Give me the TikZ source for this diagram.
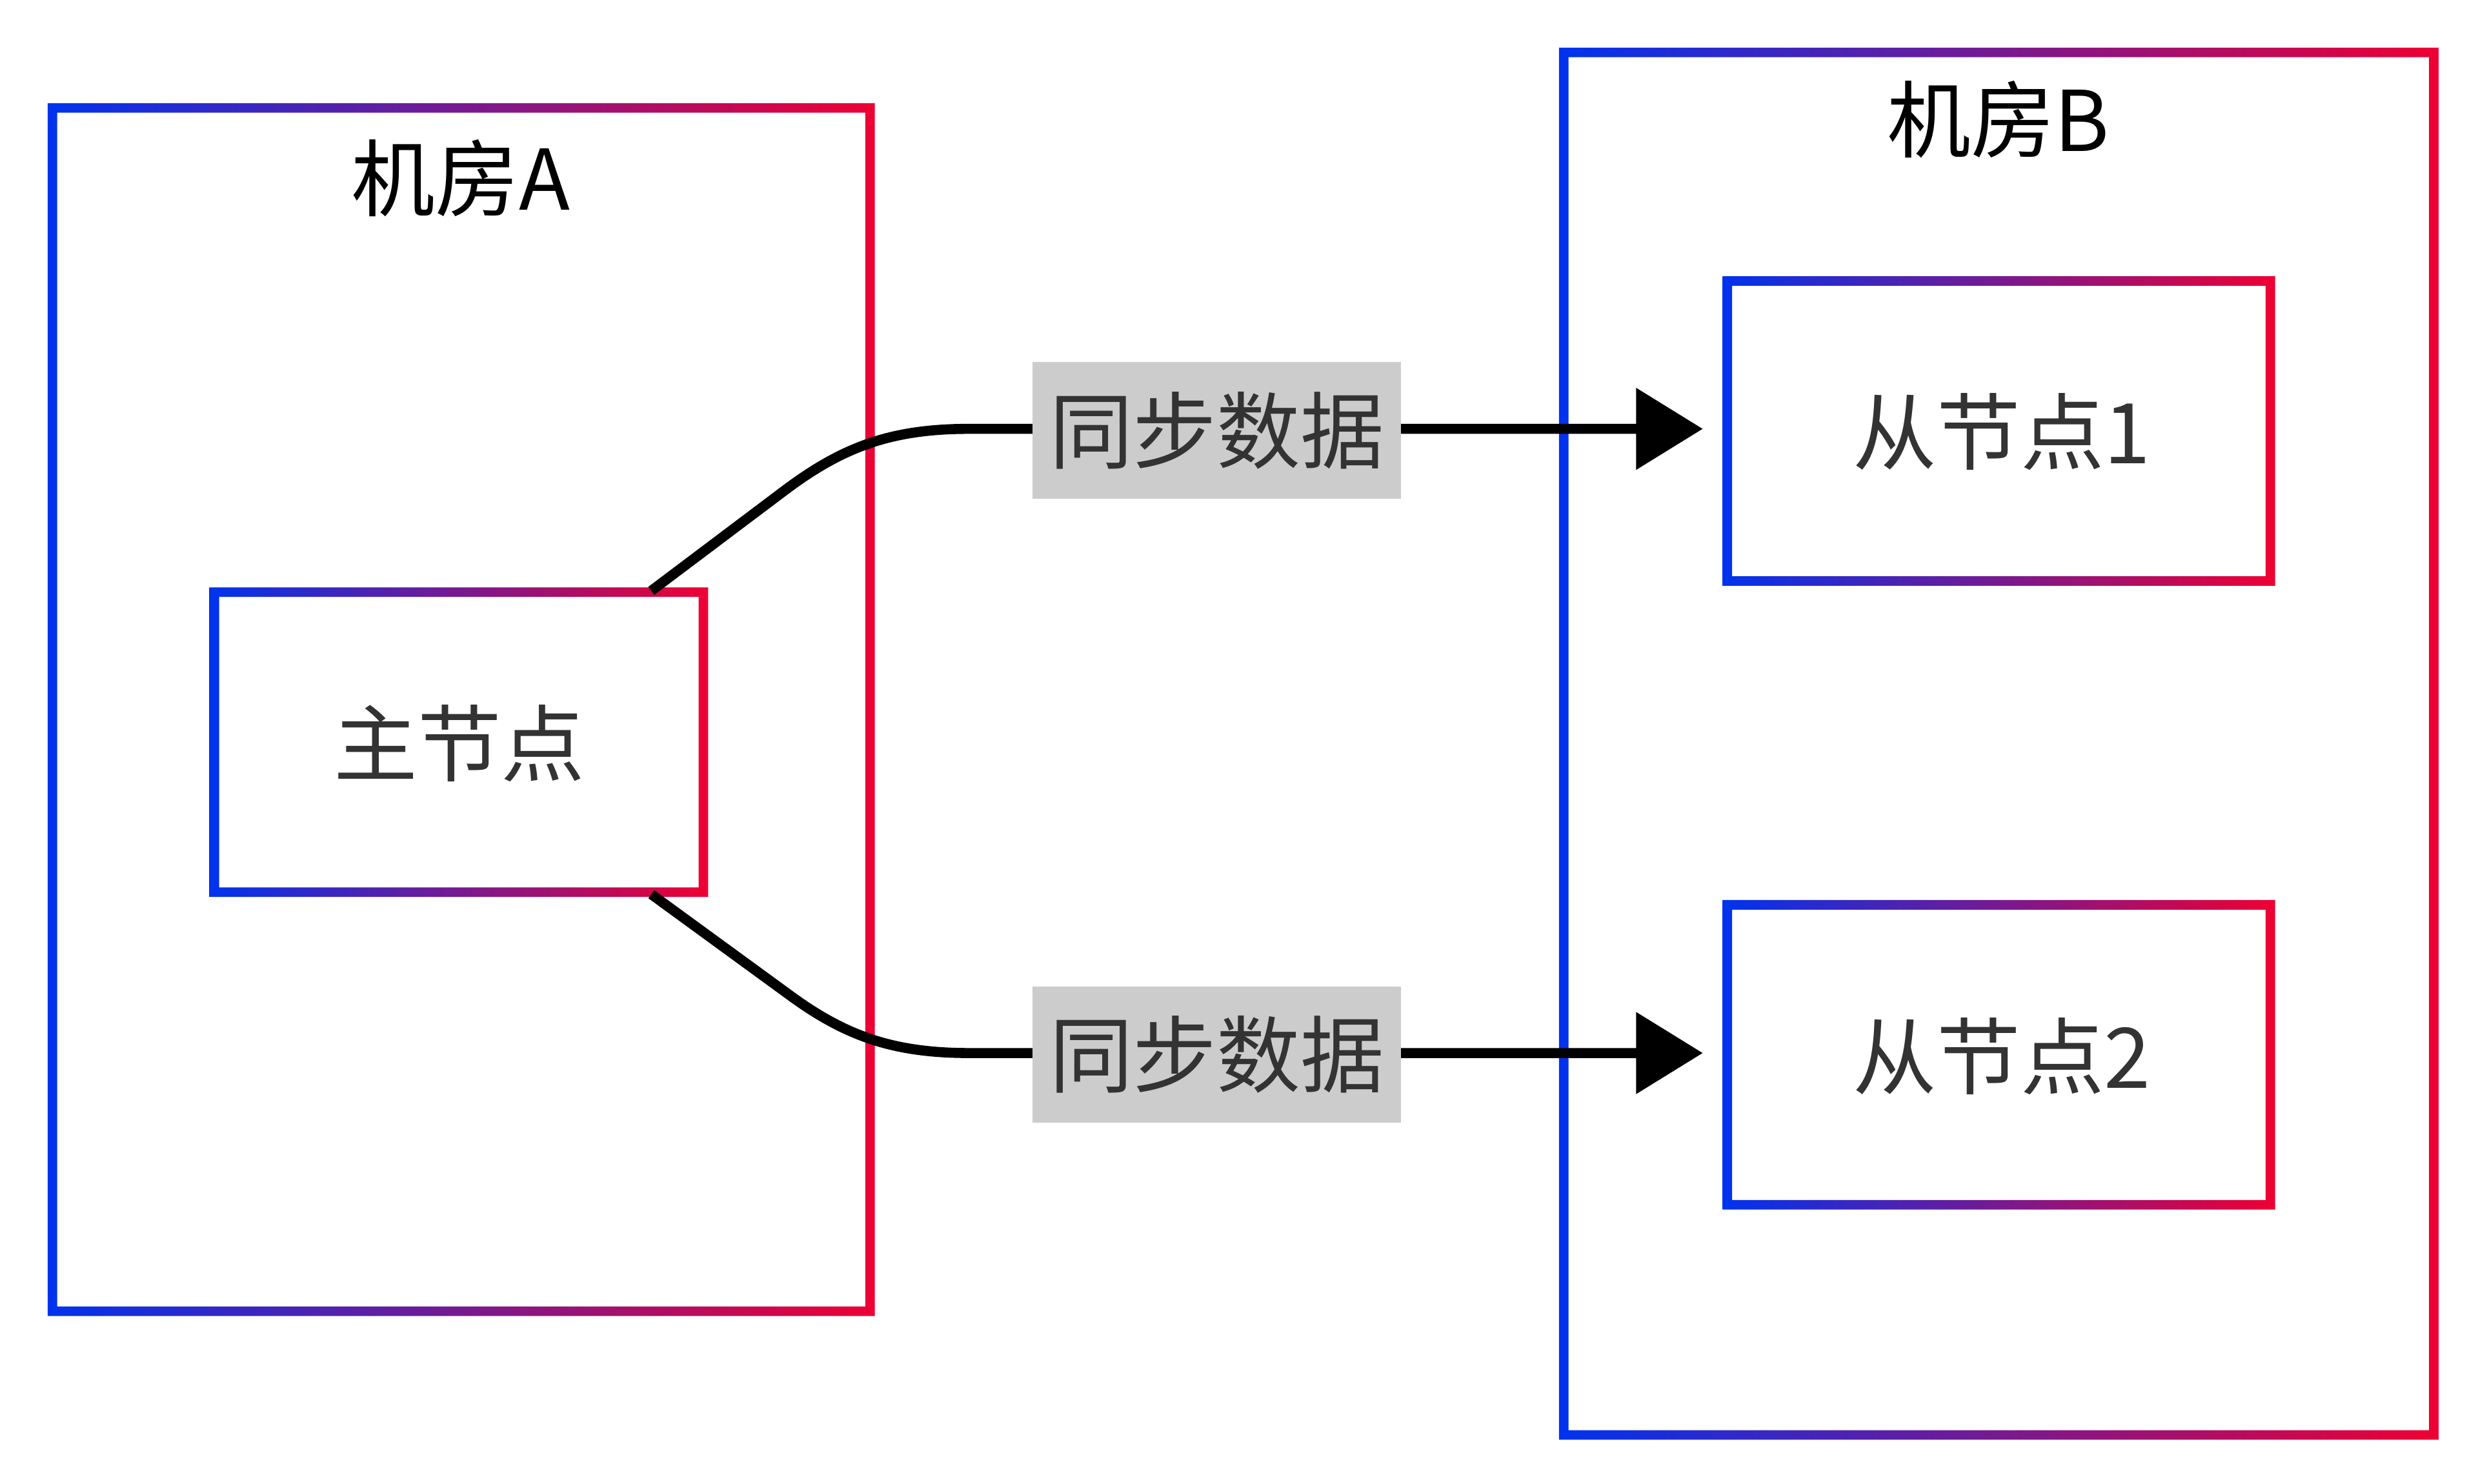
\documentclass[tikz,border=0pt]{standalone}
\usepackage{fontspec}
\newfontfamily\cjk{Noto Sans CJK SC}
\usetikzlibrary{arrows.meta}
\definecolor{gb}{HTML}{0033EE}
\definecolor{gr}{HTML}{EE0033}
\definecolor{tx}{HTML}{333333}
\definecolor{lb}{HTML}{CCCCCC}
\newcommand{\gbox}[5]{% name, x1, y1, x2, y2 (px coords, y down)
  \shade[left color=gb,right color=gr,even odd rule]
   (#2*0.01-0.03,-#3*0.01+0.03) rectangle (#4*0.01+0.03,-#5*0.01-0.03)
   (#2*0.01+0.03,-#3*0.01-0.03) rectangle (#4*0.01-0.03,-#5*0.01+0.03);
  \coordinate (#1) at (#2*0.005+#4*0.005,-#3*0.005-#5*0.005);
}
\tikzset{lbl/.style={font=\cjk\fontsize{15pt}{18pt}\selectfont},
  edge/.style={line width=1.8pt,-{Triangle[length=0.42cm,width=0.5cm]}},
  tag/.style={fill=lb,text=tx,minimum width=2.32cm,minimum height=0.86cm,inner sep=0pt,font=\cjk\fontsize{15pt}{18pt}\selectfont}}
\begin{document}
\begin{tikzpicture}
\useasboundingbox (0,0) rectangle (15.6,-9.34);
\gbox{ra}{33}{68}{548}{826}
\gbox{rb}{985}{33}{1533}{904}
\gbox{m}{135}{373}{443}{562}
\gbox{s1}{1088}{177}{1430}{366}
\gbox{s2}{1088}{570}{1430}{759}
\node[lbl] (la) at (2.9,-1.12) {机房A};
\node[lbl] (lb) at (12.58,-0.75) {机房B};
\node[lbl,text=tx] (mt) at (m) {主节点};
\node[lbl,text=tx] (s1t) at (s1) {从节点1};
\node[lbl,text=tx] (s2t) at (s2) {从节点2};
\coordinate (a1) at (4.1,-3.72);
\coordinate (a2) at (4.1,-5.63);
\coordinate (e1) at (10.72,-2.70);
\coordinate (e2) at (10.72,-6.63);
\draw[edge] (a1) -- (4.95,-3.08) .. controls (5.3,-2.82) and (5.6,-2.70) .. (6.1,-2.70) -- (e1);
\draw[edge] (a2) -- (4.95,-6.25) .. controls (5.3,-6.51) and (5.6,-6.63) .. (6.1,-6.63) -- (e2);
\node[tag] (t1) at (7.66,-2.71) {同步数据};
\node[tag] (t2) at (7.66,-6.64) {同步数据};
\end{tikzpicture}
\end{document}
